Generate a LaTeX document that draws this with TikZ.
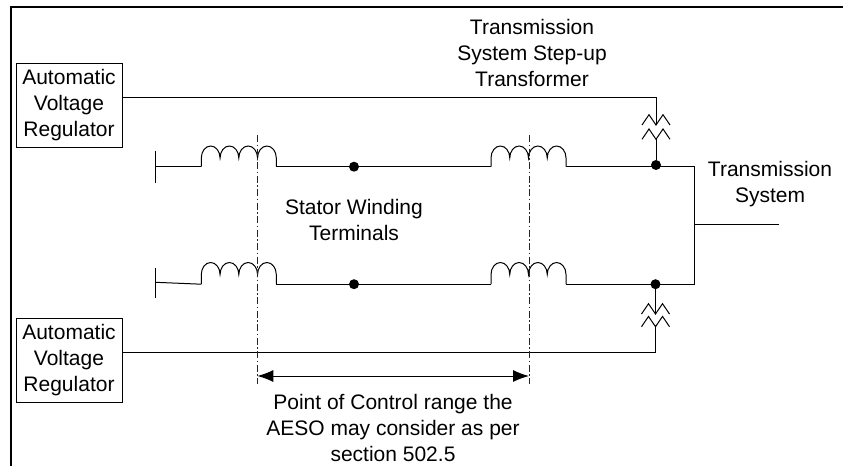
\documentclass[tikz,border=0pt]{standalone}
\usepackage{fontspec}
\setmainfont{Liberation Sans}
\usetikzlibrary{arrows.meta}
\tikzset{
  x=1pt,y=-1pt,
  wire/.style={draw=black,line width=1pt},
  frameline/.style={draw=black,line width=2pt},
  lbl/.style={align=center,inner sep=0pt,font=\fontsize{21}{26}\selectfont,text=black},
  avr/.style={draw=black,line width=1pt,minimum width=106pt,minimum height=84pt,inner sep=0pt,align=center,font=\fontsize{21}{26}\selectfont},
  junction/.style={circle,fill=black,minimum size=10pt,inner sep=0pt},
  ctrl/.style={draw=black!85,line width=0.9pt,dash pattern=on 7pt off 2.5pt on 1.5pt off 2.5pt},
  pics/coil/.style={code={
    \coordinate (-in) at (0,#1);
    \coordinate (-out) at (75,#1);
    \draw[wire] (0,#1) -- (0,0) arc[start angle=180,end angle=0,x radius=9.375pt,y radius=12pt]
      arc[start angle=180,end angle=0,x radius=9.375pt,y radius=12pt]
      arc[start angle=180,end angle=0,x radius=9.375pt,y radius=12pt]
      arc[start angle=180,end angle=0,x radius=9.375pt,y radius=12pt] -- (75,#1);
  }},
  zig/.pic={
    \coordinate (-mid) at (0,0);
    \draw[wire] (-14,0) -- (-7,-10.3) -- (0,0) -- (7,-10.3) -- (14,0);
  },
}
\begin{document}
\begin{tikzpicture}
\useasboundingbox (0,0) rectangle (843,466);
\draw[frameline] (11,466) -- (11,7) -- (843,7);

\node[avr] (avr1) at (69,105) {Automatic\\Voltage\\Regulator};
\node[avr] (avr2) at (69,360) {Automatic\\Voltage\\Regulator};

\pic (c1) at (201.3,158) {coil=8.7};
\pic (c2) at (491,158) {coil=8.7};
\pic (c3) at (201.3,274.5) {coil=9.7};
\pic (c4) at (491,274.5) {coil=9.7};

\pic (z1) at (656,125) {zig};
\pic (z2) at (656,139.3) {zig};
\pic (z3) at (655.5,314) {zig};
\pic (z4) at (655.5,326.7) {zig};

\node[junction] (j1) at (354,166.7) {};
\node[junction] (j2) at (656,165) {};
\node[junction] (j3) at (354,284.2) {};
\node[junction] (j4) at (655.5,284.2) {};

\coordinate (s1t) at (155.7,150.7);
\coordinate (s1b) at (155.7,182.7);
\coordinate (s1m) at (155.7,166.7);
\coordinate (s3t) at (155.7,268);
\coordinate (s3b) at (155.7,298);
\coordinate (s3m) at (155.7,282.3);
\coordinate (rt) at (694.5,166.7);
\coordinate (rb) at (694.5,284.2);
\coordinate (rm) at (694.5,224);
\coordinate (out) at (778.5,224);
\coordinate (a1) at (656,97);
\coordinate (a2) at (655.5,352);

\draw[wire] (s1t) -- (s1b);
\draw[wire] (s1m) -- (c1-in);
\draw[wire] (c1-out) -- (j1) -- (c2-in);
\draw[wire] (c2-out) -- (rt) -- (rb) -- (c4-out);
\draw[wire] (s3t) -- (s3b);
\draw[wire] (s3m) -- (c3-in);
\draw[wire] (c3-out) -- (j3) -- (c4-in);
\draw[wire] (rm) -- (out);

\draw[wire] (avr1.east |- a1) -- (a1) -- (z1-mid);
\draw[wire] (z2-mid) -- (j2);
\draw[wire] (j4) -- (z3-mid);
\draw[wire] (z4-mid) -- (a2) -- (avr2.east |- a2);

\coordinate (d1t) at (257.3,135);
\coordinate (d1b) at (257.3,384);
\coordinate (d2t) at (529,135);
\coordinate (d2b) at (529,384);
\draw[ctrl] (d1t) -- (d1b);
\draw[ctrl] (d2t) -- (d2b);
\coordinate (ra) at (257.3,376);
\coordinate (rc) at (529,376);
\draw[wire,{Latex[length=16pt,width=12pt]}-{Latex[length=16pt,width=12pt]}] (ra) -- (rc);

\node[lbl] (t1) at (532,53) {Transmission\\System Step-up\\Transformer};
\node[lbl] (t2) at (770,184) {Transmission\\System};
\node[lbl] (t3) at (354,220) {Stator Winding\\Terminals};
\node[lbl] (t4) at (393,428) {Point of Control range the\\AESO may consider as per\\section 502.5};
\end{tikzpicture}
\end{document}
